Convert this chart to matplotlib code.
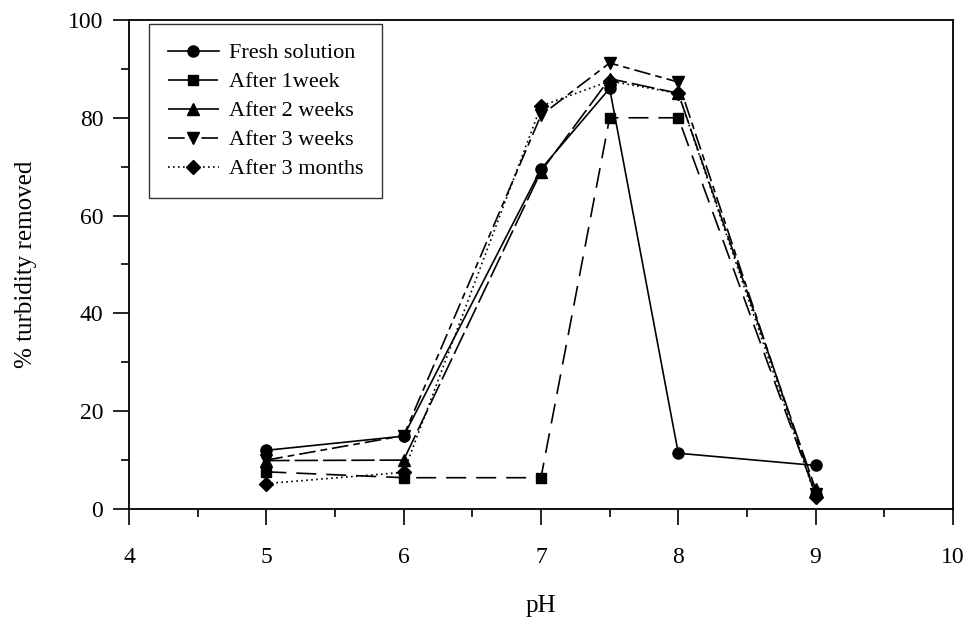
import matplotlib
matplotlib.use("Agg")
import matplotlib.pyplot as plt
from matplotlib.ticker import MultipleLocator

plt.rcParams['font.family'] = ['Liberation Serif', 'DejaVu Serif']

ph = [5, 6, 7, 7.5, 8, 9]
fresh = [12.0, 14.9, 69.5, 86.0, 11.4, 8.9]
week1 = [7.6, 6.4, 6.4, 80.0, 80.0, 3.0]
weeks2 = [9.9, 10.0, 69.0, 88.0, 85.0, 4.0]
weeks3 = [10.0, 15.0, 80.5, 91.2, 87.3, 3.0]
months3 = [5.2, 7.5, 82.4, 87.5, 85.0, 2.5]

labels = ["Fresh solution", "After 1week", "After 2 weeks", "After 3 weeks", "After 3 months"]

fig = plt.figure(figsize=(9.72, 6.28), dpi=100)
ax = fig.add_axes([0.1327, 0.1895, 0.8477, 0.7787])

ms = 8
ax.plot(ph, fresh, color='black', lw=1.2, ls='-', marker='o', ms=ms, label=labels[0])
ax.plot(ph, week1, color='black', lw=1.2, ls=(0, (12, 6)), marker='s', ms=ms - 1, label=labels[1])
ax.plot(ph, weeks2, color='black', lw=1.2, ls=(0, (14, 3)), marker='^', ms=ms, label=labels[2])
ax.plot(ph, weeks3, color='black', lw=1.2, ls=(0, (10, 3, 4, 3)), marker='v', ms=ms, label=labels[3])
ax.plot(ph, months3, color='black', lw=1.2, ls=(0, (1, 2)), marker='D', ms=ms - 1, label=labels[4])

ax.set_xlim(4, 10)
ax.set_ylim(0, 100)
ax.xaxis.set_major_locator(MultipleLocator(1))
ax.xaxis.set_minor_locator(MultipleLocator(0.5))
ax.yaxis.set_major_locator(MultipleLocator(20))
ax.yaxis.set_minor_locator(MultipleLocator(10))
ax.tick_params(which='major', direction='out', length=11.5, width=1.2, labelsize=17)
ax.tick_params(which='minor', direction='out', length=5.8, width=1.2)
ax.tick_params(axis='x', which='major', pad=16)
ax.tick_params(axis='y', which='major', pad=7)
for s in ax.spines.values():
    s.set_linewidth(1.3)

ax.set_xlabel("pH", fontsize=18, labelpad=19)
ax.set_ylabel("% turbidity removed", fontsize=18, labelpad=22)

leg = ax.legend(loc='upper left', bbox_to_anchor=(0.0243, 0.992), borderaxespad=0,
                fontsize=16, frameon=True, fancybox=False, edgecolor='black',
                handlelength=2.3, handletextpad=0.45, borderpad=0.85, labelspacing=0.38)
leg.get_frame().set_linewidth(1.0)

fig.savefig("out.png", dpi=100)
